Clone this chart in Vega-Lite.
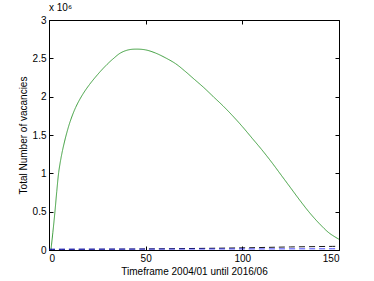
{
  "$schema": "https://vega.github.io/schema/vega-lite/v6.json",
  "width": 290,
  "height": 230,
  "autosize": {"type": "none"},
  "padding": {"left": 49, "top": 20, "right": 35, "bottom": 31},
  "background": "white",
  "title": {"text": "x 10⁶", "anchor": "start", "frame": "group", "fontSize": 10, "fontWeight": "normal", "font": "Liberation Sans", "offset": 2, "dx": 0},
  "config": {
    "view": {"stroke": "#000", "strokeWidth": 1},
    "axis": {"grid": false, "domainColor": "#000", "tickColor": "#000", "labelFont": "Liberation Sans", "titleFont": "Liberation Sans", "labelFontSize": 10, "titleFontSize": 10, "titleFontWeight": "normal", "labelColor": "#000", "titleColor": "#000", "tickSize": -4, "labelPadding": 7}
  },
  "resolve": {"axis": {"x": "independent", "y": "independent"}},
  "data": {"values": [
    {"t": 1, "s": "total", "v": 0},
    {"t": 2, "s": "total", "v": 230000},
    {"t": 3, "s": "total", "v": 480000},
    {"t": 4, "s": "total", "v": 760000},
    {"t": 5, "s": "total", "v": 1010000},
    {"t": 6, "s": "total", "v": 1170000},
    {"t": 7, "s": "total", "v": 1300000},
    {"t": 8, "s": "total", "v": 1410000},
    {"t": 9, "s": "total", "v": 1510000},
    {"t": 11, "s": "total", "v": 1680000},
    {"t": 13.8, "s": "total", "v": 1860000},
    {"t": 17.2, "s": "total", "v": 2020000},
    {"t": 21, "s": "total", "v": 2160000},
    {"t": 25.9, "s": "total", "v": 2310000},
    {"t": 30, "s": "total", "v": 2420000},
    {"t": 33, "s": "total", "v": 2490000},
    {"t": 37, "s": "total", "v": 2570000},
    {"t": 41, "s": "total", "v": 2610000},
    {"t": 45, "s": "total", "v": 2620000},
    {"t": 50, "s": "total", "v": 2610000},
    {"t": 55, "s": "total", "v": 2570000},
    {"t": 60, "s": "total", "v": 2510000},
    {"t": 65.5, "s": "total", "v": 2430000},
    {"t": 70, "s": "total", "v": 2340000},
    {"t": 75, "s": "total", "v": 2230000},
    {"t": 80, "s": "total", "v": 2120000},
    {"t": 85, "s": "total", "v": 2000000},
    {"t": 90, "s": "total", "v": 1880000},
    {"t": 95, "s": "total", "v": 1750000},
    {"t": 100, "s": "total", "v": 1610000},
    {"t": 105, "s": "total", "v": 1460000},
    {"t": 110, "s": "total", "v": 1310000},
    {"t": 115, "s": "total", "v": 1150000},
    {"t": 120, "s": "total", "v": 980000},
    {"t": 125, "s": "total", "v": 810000},
    {"t": 130, "s": "total", "v": 640000},
    {"t": 135, "s": "total", "v": 480000},
    {"t": 140, "s": "total", "v": 340000},
    {"t": 145, "s": "total", "v": 220000},
    {"t": 150, "s": "total", "v": 140000},
    {"t": 0, "s": "black", "v": 8000},
    {"t": 50, "s": "black", "v": 14000},
    {"t": 100, "s": "black", "v": 28000},
    {"t": 125, "s": "black", "v": 40000},
    {"t": 150, "s": "black", "v": 48000},
    {"t": 0, "s": "blue", "v": 10000},
    {"t": 50, "s": "blue", "v": 12000},
    {"t": 100, "s": "blue", "v": 14000},
    {"t": 150, "s": "blue", "v": 16000}
  ]},
  "layer": [
    {
      "mark": {"type": "line", "interpolate": "catmull-rom", "clip": true},
      "encoding": {
        "x": {"field": "t", "type": "quantitative", "scale": {"domain": [0, 150], "nice": false, "zero": false}, "axis": {"values": [0, 50, 100, 150], "title": "Timeframe 2004/01 until 2016/06", "titlePadding": 3}},
        "y": {"field": "v", "type": "quantitative", "scale": {"domain": [0, 3000000], "nice": false}, "axis": {"values": [0, 500000, 1000000, 1500000, 2000000, 2500000, 3000000], "labelExpr": "toString(datum.value/1000000)", "title": "Total Number of vacancies", "titlePadding": 4}},
        "color": {"field": "s", "type": "nominal", "scale": {"domain": ["total", "black", "blue"], "range": ["#3c9e3c", "#000000", "#1a1aff"]}, "legend": null},
        "strokeDash": {"field": "s", "type": "nominal", "scale": {"domain": ["total", "black", "blue"], "range": [[1, 0], [6, 4], [6, 4]]}, "legend": null},
        "strokeWidth": {"field": "s", "type": "nominal", "scale": {"domain": ["total", "black", "blue"], "range": [1, 0.8, 1.6]}, "legend": null},
        "order": {"field": "t", "type": "quantitative"}
      }
    },
    {
      "mark": {"type": "point", "opacity": 0},
      "encoding": {
        "x": {"field": "t", "type": "quantitative", "axis": {"orient": "top", "values": [0, 50, 100, 150], "labels": false, "title": null, "domain": false}},
        "y": {"field": "v", "type": "quantitative", "axis": {"orient": "right", "values": [0, 500000, 1000000, 1500000, 2000000, 2500000, 3000000], "labels": false, "title": null, "domain": false}}
      }
    }
  ]
}
